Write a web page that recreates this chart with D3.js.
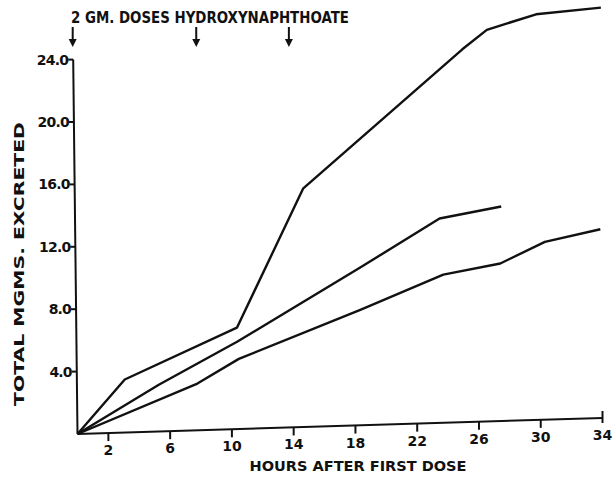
<!DOCTYPE html>
<html>
<head>
<meta charset="utf-8">
<script src="https://cdn.jsdelivr.net/npm/d3@7"></script>
<style>
  body { margin: 0; background: #fff; }
  text { font-family: 'DejaVu Sans', sans-serif; font-weight: bold; fill: #111; }
</style>
</head>
<body>
<div id="chart"></div>
<script>
const W = 615
const H = 478

// hours after first dose / total mgms excreted
const seriesTop = [
  { h: 0, v: 0 }, { h: 3.1, v: 3.4 }, { h: 10.4, v: 6.5 }, { h: 14.8, v: 15.3 },
  { h: 25.2, v: 23.9 }, { h: 26.8, v: 25.1 }, { h: 30.0, v: 26.0 }, { h: 34.2, v: 26.3 }
]
const seriesMid = [
  { h: 0, v: 0 }, { h: 5.3, v: 3.0 }, { h: 10.4, v: 5.6 }, { h: 18.4, v: 10.1 },
  { h: 23.6, v: 13.1 }, { h: 27.6, v: 13.75 }
]
const seriesLow = [
  { h: 0, v: 0 }, { h: 7.8, v: 3.0 }, { h: 10.5, v: 4.5 }, { h: 18.4, v: 7.4 },
  { h: 23.8, v: 9.5 }, { h: 27.5, v: 10.1 }, { h: 30.4, v: 11.4 }, { h: 34, v: 12.1 }
]
const xTicks = [2, 6, 10, 14, 18, 22, 26, 30, 34]
const yTicks = [4, 8, 12, 16, 20, 24]
const yTickLabels = ['4.0', '8.0', '12.0', '16.0', '20.0', '24.0']
const doseHours = [0, 8, 14]

const origin = { x: 77.5, y: 434 }
// the original axes are hand drawn and a bit askew
const tiltX = 0.0305
const leanY = 0.0115

const x = d3.scaleLinear().domain([0, 34]).range([0, 525])
const y = d3.scaleLinear().domain([0, 24]).range([0, 374.4])

function px(h, v) {
  const u = x(h)
  const w = y(v)
  return [origin.x + u - leanY * w, origin.y - tiltX * u - w]
}

const svg = d3.select('#chart')
  .append('svg')
  .attr('width', W)
  .attr('height', H)

svg.append('rect').attr('width', W).attr('height', H).attr('fill', '#fff')

// axes
const axes = svg.append('g')
  .attr('stroke', '#111')
  .attr('stroke-width', 2)
  .attr('fill', 'none')

axes.append('line')
  .attr('x1', px(0, 0)[0]).attr('y1', px(0, 0)[1])
  .attr('x2', px(34, 0)[0]).attr('y2', px(34, 0)[1])

axes.append('line')
  .attr('x1', px(0, 0)[0]).attr('y1', px(0, 0)[1])
  .attr('x2', px(0, 24)[0]).attr('y2', px(0, 24)[1])

axes.selectAll('.xtick')
  .data(xTicks)
  .enter()
  .append('line')
  .attr('class', 'xtick')
  .attr('x1', d => px(d, 0)[0])
  .attr('x2', d => px(d, 0)[0])
  .attr('y1', d => px(d, 0)[1] + (d === 34 ? -7 : 0))
  .attr('y2', d => px(d, 0)[1] + (d === 34 ? 5 : 8))

axes.selectAll('.ytick')
  .data(yTicks)
  .enter()
  .append('line')
  .attr('class', 'ytick')
  .attr('x1', d => px(0, d)[0] - 5)
  .attr('x2', d => px(0, d)[0])
  .attr('y1', d => px(0, d)[1])
  .attr('y2', d => px(0, d)[1])

svg.selectAll('.xlab')
  .data(xTicks)
  .enter()
  .append('text')
  .attr('class', 'xlab')
  .attr('x', d => px(d, 0)[0])
  .attr('y', d => px(d, 0)[1] + 22)
  .attr('text-anchor', 'middle')
  .attr('font-size', 14)
  .text(d => d)

svg.selectAll('.ylab')
  .data(yTicks)
  .enter()
  .append('text')
  .attr('class', 'ylab')
  .attr('x', d => px(0, d)[0] - 5)
  .attr('y', d => px(0, d)[1] + 5)
  .attr('text-anchor', 'end')
  .attr('font-size', 14)
  .attr('letter-spacing', -0.8)
  .text((d, i) => yTickLabels[i])

// curves
const line = d3.line()
  .x(d => px(d.h, d.v)[0])
  .y(d => px(d.h, d.v)[1])

svg.selectAll('.curve')
  .data([seriesTop, seriesMid, seriesLow])
  .enter()
  .append('path')
  .attr('class', 'curve')
  .attr('d', line)
  .attr('fill', 'none')
  .attr('stroke', '#111')
  .attr('stroke-width', 2.4)
  .attr('stroke-linejoin', 'round')

// dose arrows
const arrows = svg.selectAll('.dose')
  .data(doseHours)
  .enter()
  .append('g')
  .attr('class', 'dose')
  .attr('transform', d => 'translate(' + (origin.x + x(d) - 4.8) + ',0)')

arrows.append('line')
  .attr('x1', 0).attr('x2', 0)
  .attr('y1', 27).attr('y2', 41)
  .attr('stroke', '#111')
  .attr('stroke-width', 2)

arrows.append('path')
  .attr('d', 'M-4,39 L4,39 L0,47 Z')
  .attr('fill', '#111')

svg.append('text')
  .attr('x', 71)
  .attr('y', 23)
  .attr('font-size', 15)
  .attr('textLength', 278)
  .attr('lengthAdjust', 'spacingAndGlyphs')
  .text('2 GM. DOSES HYDROXYNAPHTHOATE')

svg.append('text')
  .attr('transform', 'translate(24,264) rotate(-90)')
  .attr('text-anchor', 'middle')
  .attr('font-size', 14)
  .attr('textLength', 284)
  .attr('lengthAdjust', 'spacingAndGlyphs')
  .text('TOTAL MGMS. EXCRETED')

svg.append('text')
  .attr('x', 358)
  .attr('y', 471)
  .attr('text-anchor', 'middle')
  .attr('font-size', 14)
  .attr('textLength', 217)
  .attr('lengthAdjust', 'spacingAndGlyphs')
  .text('HOURS AFTER FIRST DOSE')
</script>
</body>
</html>
